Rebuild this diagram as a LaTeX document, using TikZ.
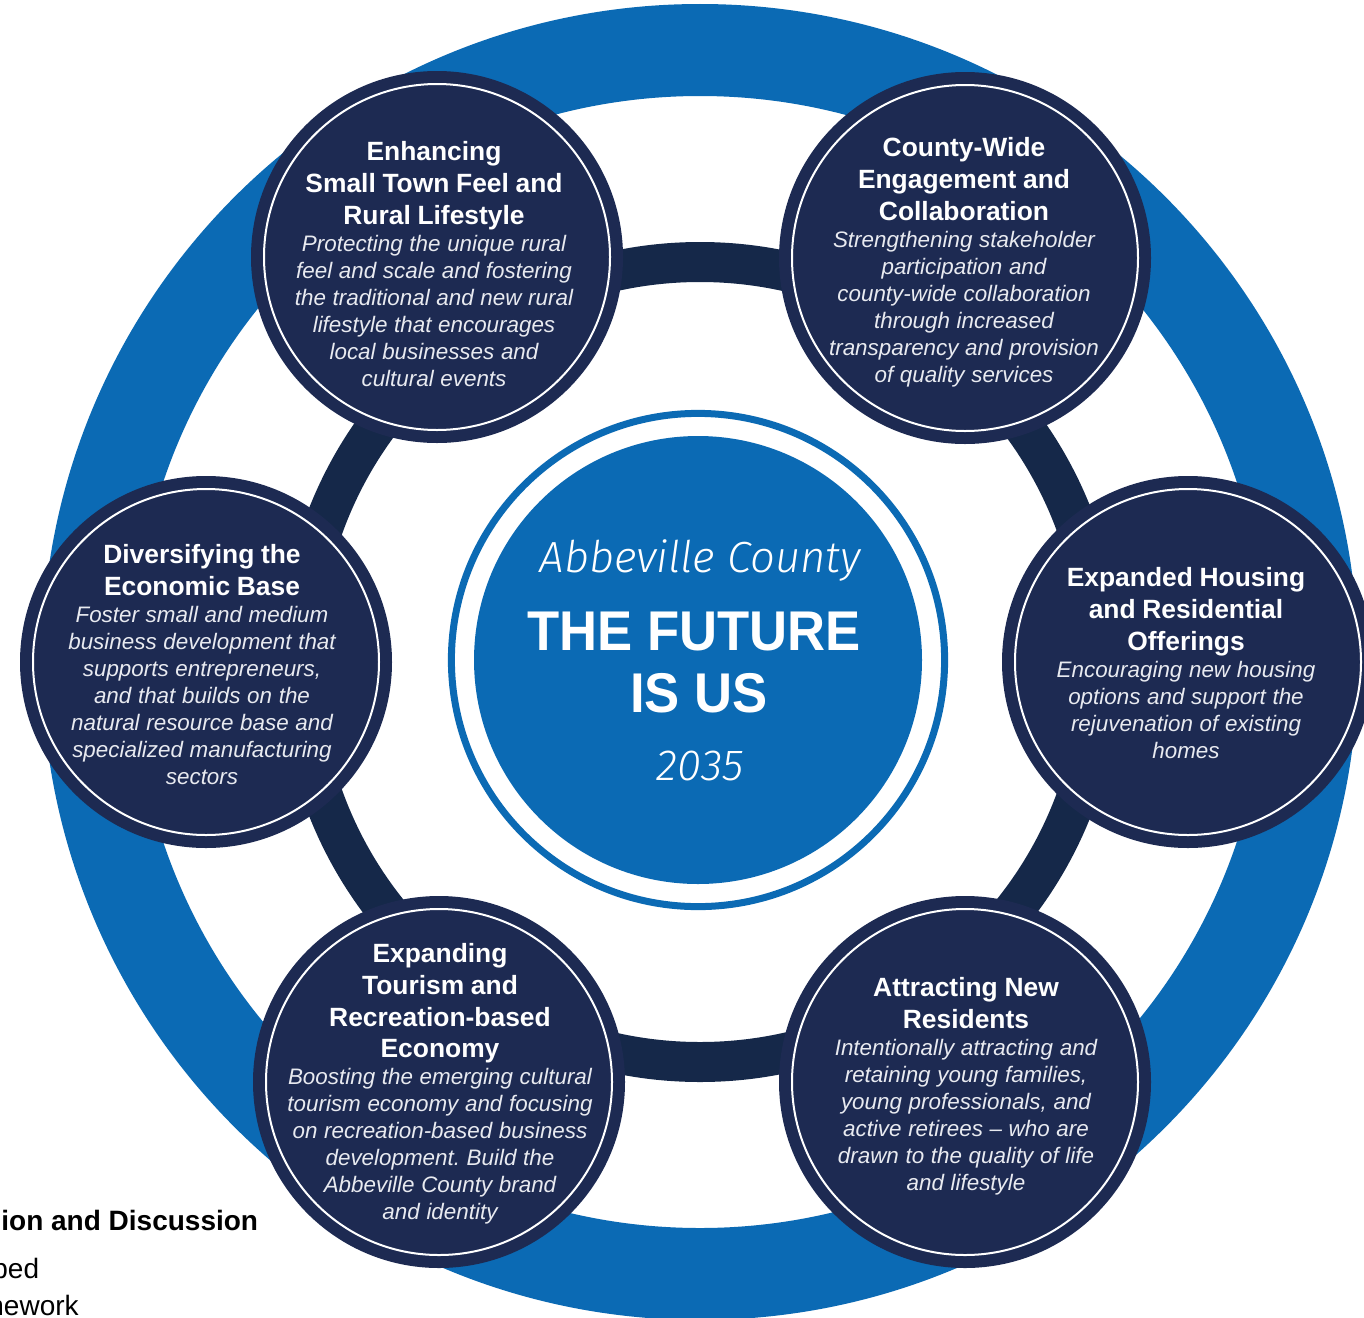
\documentclass[tikz,border=0pt]{standalone}
\usepackage{fontspec}
\setmainfont{Liberation Sans}
\newfontfamily\lightit{Fira Sans Light Italic}
\usepackage{graphicx}
\definecolor{ringblue}{RGB}{11,106,180}
\definecolor{navy}{RGB}{29,42,82}
\definecolor{bandnavy}{RGB}{21,40,73}
\definecolor{bodytxt}{RGB}{232,234,240}
\newcommand{\cirtitle}{\fontsize{13.2pt}{15.9pt}\selectfont\bfseries\upshape\color{white}}
\newcommand{\cirbody}{\fontsize{11.2pt}{13.5pt}\selectfont\mdseries\itshape\color{bodytxt}}
\tikzset{
  bubble/.style={circle, fill=navy, minimum size=186pt, inner sep=0pt},
  bubbletext/.style={anchor=north, align=center, text width=180pt, inner sep=0pt, execute at begin node=\frenchspacing},
  pagetext/.style={anchor=base west, inner sep=0pt, text=black, font=\fontsize{14pt}{16pt}\selectfont}
}
\begin{document}
\begin{tikzpicture}[x=0.5pt,y=-0.5pt]
\useasboundingbox (0,0) rectangle (1364,1317);
\clip (0,0) rectangle (1364,1317);
\fill[white] (0,0) rectangle (1364,1317);

% rings
\coordinate (C) at (700,662);
\draw[ringblue, line width=46pt] (C) circle[radius=306pt];
\draw[bandnavy, line width=20pt] (C) circle[radius=200pt];

% centre badge
\node[circle, fill=ringblue, minimum size=224pt, inner sep=0pt] (hub) at (698,660) {};
\draw[ringblue, line width=3.5pt] (hub.center) circle[radius=123.3pt];

% background page text
\node[pagetext, font=\fontsize{14pt}{16pt}\selectfont\bfseries] (p1) at (1,1230) {ion and Discussion};
\node[pagetext] (p2) at (-8,1278) {bed};
\node[pagetext] (p3) at (-12,1315) {nework};

% bubbles
\node[bubble] (tl) at (437,257) {};
\node[bubble] (tr) at (965,258) {};
\node[bubble] (lf) at (206,662) {};
\node[bubble] (rt) at (1188,662) {};
\node[bubble] (bl) at (439,1082) {};
\node[bubble] (br) at (965,1082) {};
\foreach \n in {tl,tr,lf,rt,bl,br}
  \draw[white, line width=1pt] (\n.center) circle[radius=86.5pt];

% bubble texts
\node[bubbletext] (tlt) at (434,141) {\cirtitle Enhancing\\Small Town Feel and\\Rural Lifestyle\par
\cirbody Protecting the unique rural\\feel and scale and fostering\\the traditional and new rural\\lifestyle that encourages\\local businesses and\\cultural events\par};

\node[bubbletext] (trt) at (964,137) {\cirtitle County-Wide\\Engagement and\\Collaboration\par
\cirbody Strengthening stakeholder\\participation and\\county-wide collaboration\\through increased\\transparency and provision\\of quality services\par};

\node[bubbletext] (lft) at (202,544) {\cirtitle Diversifying the\\Economic Base\par
\cirbody Foster small and medium\\business development that\\supports entrepreneurs,\\and that builds on the\\natural resource base and\\specialized manufacturing\\sectors\par};

\node[bubbletext] (rtt) at (1186,567) {\cirtitle Expanded Housing\\and Residential\\Offerings\par
\cirbody Encouraging new housing\\options and support the\\rejuvenation of existing\\homes\par};

\node[bubbletext] (blt) at (440,943) {\cirtitle Expanding\\Tourism and\\Recreation-based\\Economy\par
\cirbody Boosting the emerging cultural\\tourism economy and focusing\\on recreation-based business\\development. Build the\\Abbeville County brand\\and identity\par};

\node[bubbletext] (brt) at (966,977) {\cirtitle Attracting New\\Residents\par
\cirbody Intentionally attracting and\\retaining young families,\\young professionals, and\\active retirees -- who are\\drawn to the quality of life\\and lifestyle\par};

% centre texts
\node[anchor=base, inner sep=0pt, text=white, font=\lightit\fontsize{21.8pt}{24pt}\selectfont] (abb) at (700,572) {Abbeville County};
\node[anchor=base, inner sep=0pt, text=white] (fut) at (694,650) {\scalebox{0.94}[1]{\fontsize{28pt}{30pt}\selectfont\bfseries THE FUTURE}};
\node[anchor=base, inner sep=0pt, text=white] (isus) at (699,712) {\scalebox{0.94}[1]{\fontsize{28pt}{30pt}\selectfont\bfseries IS US}};
\node[anchor=base, inner sep=0pt, text=white, font=\lightit\fontsize{21.8pt}{24pt}\selectfont] (yr) at (700,780) {2035};
\end{tikzpicture}
\end{document}
